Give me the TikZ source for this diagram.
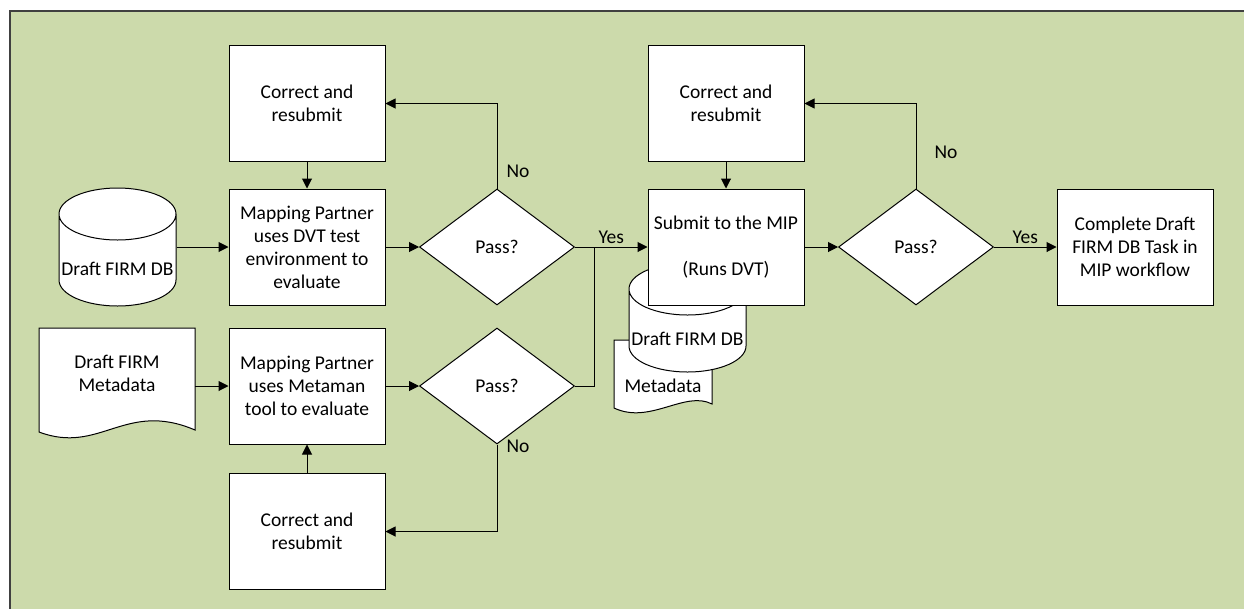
\documentclass[tikz,border=0pt]{standalone}
\usepackage{fontspec}
\setmainfont{Carlito}
\usetikzlibrary{shapes.geometric,arrows.meta}
\definecolor{bggreen}{RGB}{204,218,171}
\definecolor{edgegray}{RGB}{64,64,64}

\begin{document}
\begin{tikzpicture}[x=1pt, y=-1pt, line width=1pt, >={Triangle[length=10pt,width=10pt]},
  every node/.style={font=\fontsize{19.5}{23}\selectfont, align=center, inner sep=0pt}]
\tikzstyle{box}=[draw, fill=white, minimum width=156pt, minimum height=116pt]
\tikzstyle{dec}=[draw, fill=white, diamond, minimum width=155pt, minimum height=116pt]
\tikzstyle{db}=[draw, fill=white, cylinder, shape border rotate=90, aspect=1.3, minimum width=117pt, anchor=shape center, text height=30pt]
\tikzstyle{doc}=[draw, fill=white]
\tikzstyle{tx}=[draw=none, fill=none]

\useasboundingbox (0,0) rectangle (1244,608);
\fill[bggreen] (10,11) rectangle (1250,615);
\draw[edgegray, line width=1.5pt] (10,615) -- (10,11) -- (1250,11);

% left column
\node[box] (fixA) at (307,103.5) {Correct and\\resubmit};
\node[box] (mapA) at (307,247) {Mapping Partner\\uses DVT test\\environment to\\evaluate};
\node[db, minimum height=118pt] (dbA) at (117.5,247) {\makebox[40pt]{Draft FIRM DB}};
\draw[doc] (39,328) -- (195,328) -- (195,430) .. controls (125,400) and (100,455) .. (39,432) -- cycle;
\node[tx] (docA) at (117,373) {Draft FIRM\\Metadata};
\coordinate (docAe) at (195,386);
\node[box] (mapB) at (307,386) {Mapping Partner\\uses Metaman\\tool to evaluate};
\node[box] (fixB) at (307,531.5) {Correct and\\resubmit};

\node[dec] (diaA) at (497,247) {Pass?};
\node[dec] (diaB) at (497,386) {Pass?};
\coordinate (join) at (594,247);

% submission
\draw[doc] (614,340) -- (712,340) -- (712,404) .. controls (685,390) and (650,425) .. (614,408) -- cycle;
\node[tx] (docB) at (663,386) {Metadata};
\node[db, minimum height=109pt] (dbB) at (687.5,317.5) {\makebox[40pt]{Draft FIRM DB}};
\node[box] (submit) at (726,247) {Submit to the MIP\\ \\(Runs DVT)};
\node[box] (fixC) at (726,103.5) {Correct and\\resubmit};
\node[dec] (diaC) at (916,247) {Pass?};
\node[box] (done) at (1135,247) {Complete Draft\\FIRM DB Task in\\MIP workflow};

\draw[->] (dbA.east |- mapA) -- (mapA);
\draw[->] (docAe) -- (mapB);
\draw[->] (fixA) -- (mapA);
\draw[->] (fixB) -- (mapB);
\draw[->] (mapA) -- (diaA);
\draw[->] (mapB) -- (diaB);
\draw[->] (diaA.north) |- node[pos=0.1, right=9pt]{No} (fixA.east);
\draw[->] (diaB.south) |- node[pos=0.01, right=9pt]{No} (fixB.east);
\draw[->] (diaA) -- node[above=3pt]{Yes} (submit);
\draw (diaB.east) -| (join);
\draw[->] (fixC) -- (submit);
\draw[->] (submit) -- (diaC);
\draw[->] (diaC.north) |- node[pos=0.21, right=18pt]{No} (fixC.east);
\draw[->] (diaC) -- node[above=3pt]{Yes} (done);
\end{tikzpicture}
\end{document}
